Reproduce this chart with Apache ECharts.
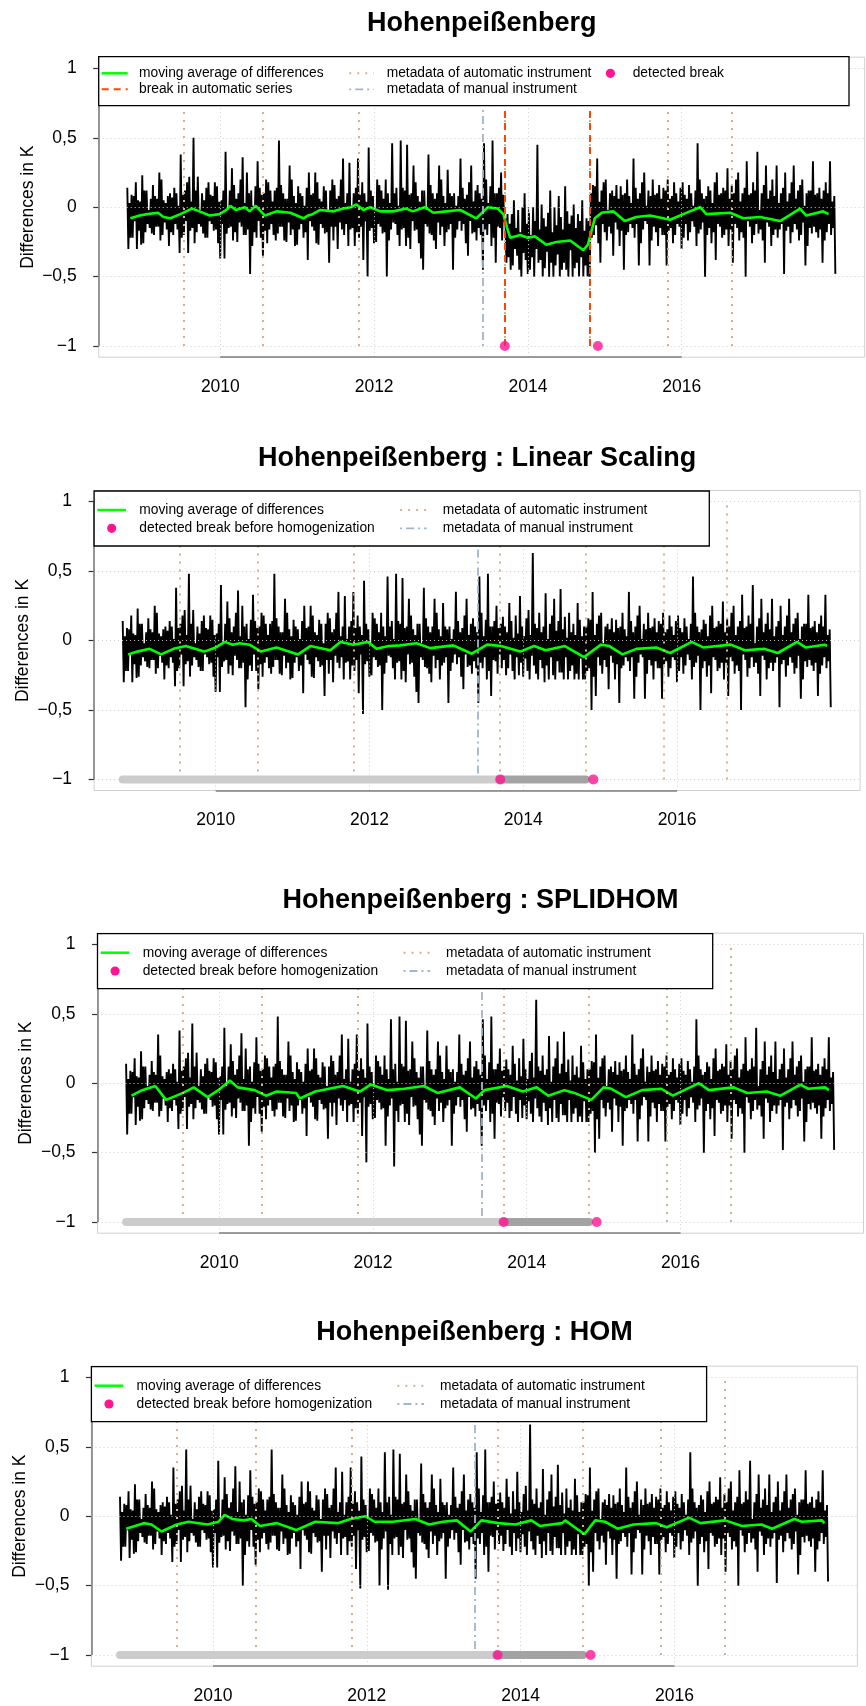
<!DOCTYPE html>
<html><head><meta charset="utf-8">
<script src="https://cdn.jsdelivr.net/npm/echarts@6/dist/echarts.min.js"></script>
<style>html,body{margin:0;padding:0;background:#fff}#c{width:866px;height:1706px}</style>
</head><body><div id="c"></div>
<script>
// ---------- data (K): differences sampled every 1/72 year from START (one row = one year) ----------
const START = 2008.79;
const STEP = 1 / 72;
const rawDiff = [
0.14,-0.30,0.03,-0.22,0.09,-0.22,0.08,-0.10,0.18,-0.30,0.05,-0.17,0.04,-0.27,0.23,-0.26,0.12,-0.18,0.12,-0.12,-0.02,-0.15,0.06,-0.19,0.16,-0.20,0.08,-0.14,0.06,-0.14,0.25,-0.24,0.20,-0.20,0.05,-0.11,0.03,-0.16,0.08,-0.28,0.10,-0.18,0.07,-0.20,0.14,-0.12,0.10,-0.16,0.01,-0.33,0.38,-0.22,0.09,-0.20,0.12,-0.10,0.18,-0.33,0.22,-0.17,0.04,-0.15,0.50,-0.26,0.12,-0.18,0.22,-0.12,-0.02,-0.14,0.10,-0.19,
0.05,-0.22,0.14,-0.22,0.18,-0.10,0.09,-0.12,0.08,-0.17,0.18,-0.16,0.15,-0.26,0.04,-0.37,0.05,-0.12,0.12,-0.37,0.40,-0.19,-0.02,-0.15,0.12,-0.14,0.28,-0.24,0.16,-0.18,0.06,-0.25,0.10,-0.11,0.20,-0.14,0.36,-0.20,0.03,-0.20,0.25,-0.16,0.10,-0.48,0.12,-0.28,0.01,-0.18,0.15,-0.22,0.33,-0.10,0.14,-0.22,0.09,-0.35,0.10,-0.17,0.20,-0.26,0.18,-0.16,0.12,-0.12,0.04,-0.20,0.12,-0.24,0.14,-0.19,0.48,-0.14,
0.16,-0.14,0.10,-0.24,0.06,-0.25,0.06,-0.11,0.30,-0.20,0.20,-0.16,0.08,-0.28,0.03,-0.27,0.15,-0.16,0.10,-0.12,0.08,-0.22,0.01,-0.18,0.14,-0.38,0.25,-0.10,0.09,-0.14,0.10,-0.17,0.25,-0.26,0.18,-0.27,0.06,-0.12,0.04,-0.15,0.15,-0.19,0.12,-0.18,-0.02,-0.40,0.12,-0.14,0.20,-0.24,0.16,-0.14,0.06,-0.30,0.08,-0.11,0.20,-0.16,0.35,-0.20,0.03,-0.12,0.10,-0.28,0.32,-0.16,0.01,-0.15,0.10,-0.28,0.14,-0.18,
0.35,-0.22,0.09,-0.14,0.18,-0.38,0.10,-0.10,0.04,-0.50,0.43,-0.17,0.12,-0.15,0.08,-0.26,-0.02,-0.25,0.20,-0.12,0.16,-0.14,0.12,-0.19,0.06,-0.18,0.20,-0.50,0.10,-0.24,0.03,-0.16,0.46,-0.11,0.10,-0.12,0.14,-0.20,0.01,-0.28,0.48,-0.16,0.14,-0.15,0.12,-0.28,0.45,-0.22,0.09,-0.30,0.10,-0.10,0.30,-0.17,0.18,-0.16,0.08,-0.26,0.04,-0.37,0.12,-0.45,0.12,-0.12,-0.02,-0.14,0.38,-0.19,0.16,-0.20,0.10,-0.24,
0.06,-0.30,0.10,-0.11,0.30,-0.20,0.20,-0.14,0.08,-0.28,0.03,-0.18,0.27,-0.16,0.10,-0.12,0.08,-0.45,0.10,-0.22,0.01,-0.16,0.08,-0.10,0.35,-0.17,0.14,-0.12,0.06,-0.26,0.09,-0.35,0.18,-0.10,0.30,-0.19,0.04,-0.18,0.12,-0.24,0.16,-0.15,0.10,-0.20,0.06,-0.45,0.46,-0.16,0.20,-0.20,0.03,-0.12,0.15,-0.28,0.48,-0.22,0.10,-0.40,0.10,-0.14,0.14,-0.15,0.25,-0.24,0.09,-0.10,-0.08,-0.40,-0.05,-0.36,-0.12,-0.45,
-0.05,-0.42,0.05,-0.30,-0.15,-0.35,-0.02,-0.45,-0.18,-0.50,0.00,-0.33,0.10,-0.38,-0.12,-0.48,-0.04,-0.45,-0.20,-0.36,0.00,-0.50,-0.10,-0.30,0.45,-0.40,-0.16,-0.38,0.02,-0.50,-0.08,-0.44,-0.14,-0.32,-0.04,-0.50,0.12,-0.40,-0.18,-0.50,0.00,-0.42,-0.13,-0.34,0.08,-0.50,-0.07,-0.45,-0.16,-0.40,0.15,-0.45,-0.03,-0.50,-0.12,-0.31,-0.06,-0.50,0.02,-0.44,-0.15,-0.40,-0.05,-0.50,-0.10,-0.36,0.05,-0.50,-0.17,-0.42,-0.08,-0.50,
-0.10,-0.50,0.10,-0.22,0.16,-0.20,0.15,-0.13,0.35,-0.26,0.04,-0.40,0.12,-0.12,0.18,-0.18,0.20,-0.24,-0.02,-0.14,0.10,-0.19,0.12,-0.35,0.08,-0.11,0.16,-0.16,0.06,-0.28,0.15,-0.17,0.09,-0.45,0.10,-0.20,0.20,-0.18,0.08,-0.12,0.03,-0.15,0.35,-0.22,0.14,-0.12,0.06,-0.42,0.10,-0.26,0.18,-0.16,0.25,-0.10,0.01,-0.12,0.12,-0.42,0.08,-0.24,0.20,-0.14,0.09,-0.18,0.10,-0.28,0.16,-0.15,0.06,-0.20,0.14,-0.20,
0.12,-0.42,0.20,-0.17,0.06,-0.15,0.08,-0.26,0.18,-0.20,0.10,-0.12,0.04,-0.14,0.14,-0.30,0.18,-0.22,0.09,-0.12,0.06,-0.24,0.16,-0.18,0.10,-0.10,0.01,-0.14,0.12,-0.28,0.46,-0.19,0.20,-0.16,0.10,-0.11,0.06,-0.50,0.08,-0.20,0.15,-0.15,0.12,-0.26,0.03,-0.18,0.18,-0.38,0.25,-0.12,0.09,-0.14,0.10,-0.22,0.14,-0.20,0.12,-0.16,0.28,-0.28,0.06,-0.16,0.16,-0.40,0.10,-0.12,0.20,-0.15,0.25,-0.24,0.04,-0.18,
0.10,-0.22,0.14,-0.50,0.33,-0.10,0.09,-0.14,0.10,-0.26,0.18,-0.20,0.12,-0.12,0.40,-0.19,-0.02,-0.16,0.10,-0.24,0.16,-0.40,0.30,-0.11,0.06,-0.14,0.12,-0.28,0.20,-0.20,0.08,-0.16,0.30,-0.22,0.03,-0.16,0.10,-0.12,0.14,-0.48,0.25,-0.17,0.04,-0.14,0.10,-0.26,0.18,-0.18,0.30,-0.12,0.06,-0.16,0.12,-0.24,0.16,-0.20,0.20,-0.11,0.01,-0.42,0.10,-0.28,0.12,-0.15,0.12,-0.19,0.33,-0.14,0.09,-0.18,0.10,-0.22,
0.14,-0.16,0.06,-0.40,0.12,-0.24,0.18,-0.18,0.10,-0.12,0.33,-0.20,0.04,-0.15,0.08,-0.48];
const linDiff = [
0.14,-0.30,0.03,-0.22,0.09,-0.22,0.08,-0.10,0.18,-0.30,0.05,-0.17,0.04,-0.27,0.23,-0.26,0.12,-0.18,0.12,-0.12,-0.02,-0.15,0.06,-0.19,0.16,-0.20,0.08,-0.14,0.06,-0.14,0.25,-0.24,0.20,-0.20,0.05,-0.11,0.03,-0.16,0.08,-0.28,0.10,-0.18,0.07,-0.20,0.14,-0.12,0.10,-0.16,0.01,-0.33,0.38,-0.22,0.09,-0.20,0.12,-0.10,0.18,-0.33,0.22,-0.17,0.04,-0.15,0.48,-0.26,0.12,-0.18,0.22,-0.12,-0.02,-0.14,0.10,-0.19,
0.05,-0.22,0.14,-0.22,0.18,-0.10,0.09,-0.12,0.08,-0.17,0.18,-0.16,0.15,-0.26,0.04,-0.37,0.05,-0.12,0.12,-0.37,0.40,-0.19,-0.02,-0.15,0.12,-0.14,0.28,-0.24,0.16,-0.18,0.06,-0.25,0.10,-0.11,0.20,-0.14,0.36,-0.20,0.03,-0.20,0.25,-0.16,0.10,-0.48,0.12,-0.28,0.01,-0.18,0.15,-0.22,0.33,-0.10,0.14,-0.22,0.09,-0.35,0.10,-0.17,0.20,-0.26,0.18,-0.16,0.12,-0.12,0.04,-0.20,0.12,-0.24,0.14,-0.19,0.48,-0.14,
0.16,-0.14,0.10,-0.24,0.06,-0.25,0.06,-0.11,0.30,-0.20,0.20,-0.16,0.08,-0.28,0.03,-0.27,0.15,-0.16,0.10,-0.12,0.08,-0.22,0.01,-0.18,0.14,-0.38,0.25,-0.10,0.09,-0.14,0.10,-0.17,0.25,-0.26,0.18,-0.27,0.06,-0.12,0.04,-0.15,0.15,-0.19,0.12,-0.18,-0.02,-0.40,0.12,-0.14,0.20,-0.24,0.16,-0.14,0.06,-0.30,0.08,-0.11,0.20,-0.16,0.35,-0.20,0.03,-0.12,0.10,-0.28,0.32,-0.16,0.01,-0.15,0.10,-0.28,0.14,-0.18,
0.35,-0.22,0.09,-0.14,0.18,-0.38,0.10,-0.10,0.04,-0.53,0.43,-0.17,0.12,-0.15,0.08,-0.26,-0.02,-0.25,0.20,-0.12,0.16,-0.14,0.12,-0.19,0.06,-0.18,0.20,-0.50,0.10,-0.24,0.03,-0.16,0.46,-0.11,0.10,-0.12,0.14,-0.20,0.01,-0.28,0.48,-0.16,0.14,-0.15,0.12,-0.28,0.45,-0.22,0.09,-0.30,0.10,-0.10,0.30,-0.17,0.18,-0.16,0.08,-0.26,0.04,-0.37,0.12,-0.45,0.12,-0.12,-0.02,-0.14,0.38,-0.19,0.16,-0.20,0.10,-0.24,
0.06,-0.30,0.10,-0.11,0.30,-0.20,0.20,-0.14,0.08,-0.28,0.03,-0.18,0.27,-0.16,0.10,-0.12,0.08,-0.45,0.10,-0.22,0.01,-0.16,0.08,-0.10,0.35,-0.17,0.14,-0.12,0.06,-0.26,0.09,-0.35,0.18,-0.10,0.30,-0.19,0.04,-0.18,0.12,-0.24,0.16,-0.15,0.10,-0.20,0.06,-0.45,0.46,-0.16,0.20,-0.20,0.03,-0.12,0.15,-0.28,0.48,-0.22,0.10,-0.40,0.10,-0.14,0.14,-0.15,0.25,-0.24,0.09,-0.10,0.12,-0.20,0.17,-0.14,0.10,-0.25,
0.06,-0.20,0.27,-0.10,0.14,-0.22,0.02,-0.28,0.18,-0.12,0.05,-0.25,0.32,-0.16,0.10,-0.26,0.03,-0.13,0.16,-0.22,0.22,-0.28,0.04,-0.11,0.63,-0.18,0.12,-0.24,0.09,-0.28,0.20,-0.14,0.06,-0.20,0.10,-0.30,0.34,-0.18,0.01,-0.28,0.12,-0.12,0.18,-0.25,0.30,-0.28,0.07,-0.15,0.14,-0.23,0.37,-0.23,0.08,-0.28,0.17,-0.12,0.02,-0.28,0.20,-0.22,0.06,-0.18,0.12,-0.28,0.04,-0.24,0.27,-0.28,0.15,-0.13,0.03,-0.28,
0.10,-0.28,0.10,-0.22,0.16,-0.20,0.15,-0.50,0.35,-0.26,0.04,-0.40,0.12,-0.12,0.18,-0.18,0.20,-0.24,-0.02,-0.14,0.10,-0.19,0.12,-0.35,0.08,-0.11,0.16,-0.16,0.06,-0.28,0.15,-0.17,0.09,-0.45,0.10,-0.20,0.20,-0.18,0.08,-0.12,0.03,-0.15,0.35,-0.22,0.14,-0.12,0.06,-0.42,0.10,-0.26,0.18,-0.16,0.25,-0.10,0.01,-0.12,0.12,-0.42,0.08,-0.24,0.20,-0.14,0.09,-0.18,0.10,-0.28,0.16,-0.15,0.06,-0.20,0.14,-0.20,
0.12,-0.42,0.20,-0.17,0.06,-0.15,0.08,-0.26,0.18,-0.20,0.10,-0.12,0.04,-0.14,0.14,-0.30,0.18,-0.22,0.09,-0.12,0.06,-0.24,0.16,-0.18,0.10,-0.10,0.01,-0.14,0.12,-0.28,0.46,-0.19,0.20,-0.16,0.10,-0.11,0.06,-0.50,0.08,-0.20,0.15,-0.15,0.12,-0.26,0.03,-0.18,0.18,-0.38,0.25,-0.12,0.09,-0.14,0.10,-0.22,0.14,-0.20,0.12,-0.16,0.28,-0.28,0.06,-0.16,0.16,-0.40,0.10,-0.12,0.20,-0.15,0.25,-0.24,0.04,-0.18,
0.10,-0.22,0.14,-0.50,0.33,-0.10,0.09,-0.14,0.10,-0.26,0.18,-0.20,0.12,-0.12,0.40,-0.19,-0.02,-0.16,0.10,-0.24,0.16,-0.40,0.30,-0.11,0.06,-0.14,0.12,-0.28,0.20,-0.20,0.08,-0.16,0.30,-0.22,0.03,-0.16,0.10,-0.12,0.14,-0.48,0.25,-0.17,0.04,-0.14,0.10,-0.26,0.18,-0.18,0.30,-0.12,0.06,-0.16,0.12,-0.24,0.16,-0.20,0.20,-0.11,0.01,-0.42,0.10,-0.28,0.12,-0.15,0.12,-0.19,0.33,-0.14,0.09,-0.18,0.10,-0.22,
0.14,-0.16,0.06,-0.40,0.12,-0.24,0.18,-0.18,0.10,-0.12,0.33,-0.20,0.04,-0.15,0.08,-0.48];
const splDiff = [
0.14,-0.37,0.03,-0.22,0.09,-0.22,0.08,-0.10,0.18,-0.30,0.05,-0.17,0.04,-0.27,0.23,-0.26,0.12,-0.18,0.12,-0.12,-0.02,-0.15,0.06,-0.19,0.16,-0.20,0.08,-0.14,0.06,-0.14,0.35,-0.24,0.20,-0.20,0.05,-0.11,0.03,-0.16,0.08,-0.28,0.10,-0.18,0.07,-0.20,0.14,-0.12,0.10,-0.16,0.01,-0.33,0.38,-0.22,0.09,-0.20,0.12,-0.10,0.18,-0.33,0.22,-0.17,0.04,-0.15,0.43,-0.26,0.12,-0.18,0.22,-0.12,-0.02,-0.14,0.10,-0.19,
0.05,-0.22,0.14,-0.22,0.18,-0.10,0.09,-0.12,0.08,-0.17,0.18,-0.16,0.15,-0.26,0.04,-0.37,0.05,-0.12,0.12,-0.37,0.40,-0.19,-0.02,-0.15,0.12,-0.14,0.28,-0.24,0.16,-0.18,0.06,-0.25,0.10,-0.11,0.20,-0.14,0.36,-0.20,0.03,-0.20,0.25,-0.16,0.10,-0.45,0.12,-0.28,0.01,-0.18,0.15,-0.22,0.33,-0.10,0.14,-0.22,0.09,-0.35,0.10,-0.17,0.20,-0.26,0.18,-0.16,0.12,-0.12,0.04,-0.20,0.12,-0.24,0.14,-0.19,0.48,-0.14,
0.16,-0.14,0.10,-0.24,0.06,-0.25,0.06,-0.11,0.30,-0.20,0.20,-0.16,0.08,-0.28,0.03,-0.27,0.15,-0.16,0.10,-0.12,0.08,-0.22,0.01,-0.18,0.14,-0.38,0.25,-0.10,0.09,-0.14,0.10,-0.17,0.25,-0.26,0.18,-0.27,0.06,-0.12,0.04,-0.15,0.15,-0.19,0.12,-0.18,-0.02,-0.40,0.12,-0.14,0.20,-0.24,0.16,-0.14,0.06,-0.30,0.08,-0.11,0.20,-0.16,0.35,-0.20,0.03,-0.12,0.10,-0.28,0.32,-0.16,0.01,-0.15,0.10,-0.28,0.14,-0.18,
0.35,-0.22,0.09,-0.14,0.18,-0.38,0.10,-0.10,0.04,-0.57,0.43,-0.17,0.12,-0.15,0.08,-0.26,-0.02,-0.25,0.20,-0.12,0.16,-0.14,0.12,-0.19,0.06,-0.18,0.20,-0.45,0.10,-0.24,0.03,-0.16,0.46,-0.11,0.10,-0.60,0.14,-0.20,0.01,-0.28,0.48,-0.16,0.14,-0.15,0.12,-0.28,0.45,-0.22,0.09,-0.30,0.10,-0.10,0.30,-0.17,0.18,-0.16,0.08,-0.26,0.04,-0.37,0.12,-0.45,0.12,-0.12,-0.02,-0.14,0.38,-0.19,0.16,-0.20,0.10,-0.24,
0.06,-0.30,0.10,-0.11,0.30,-0.20,0.20,-0.14,0.08,-0.28,0.03,-0.18,0.27,-0.16,0.10,-0.12,0.08,-0.45,0.10,-0.22,0.01,-0.16,0.08,-0.10,0.35,-0.17,0.14,-0.12,0.06,-0.26,0.09,-0.35,0.18,-0.10,0.30,-0.19,0.04,-0.18,0.12,-0.24,0.16,-0.15,0.10,-0.20,0.06,-0.45,0.46,-0.16,0.20,-0.20,0.03,-0.12,0.15,-0.28,0.48,-0.22,0.10,-0.40,0.10,-0.14,0.14,-0.15,0.25,-0.24,0.09,-0.10,0.12,-0.20,0.17,-0.14,0.10,-0.25,
0.06,-0.20,0.27,-0.10,0.14,-0.22,0.02,-0.28,0.18,-0.12,0.05,-0.25,0.32,-0.16,0.10,-0.26,0.03,-0.13,0.16,-0.22,0.22,-0.28,0.04,-0.11,0.60,-0.18,0.12,-0.24,0.09,-0.28,0.20,-0.14,0.06,-0.20,0.10,-0.30,0.34,-0.18,0.01,-0.28,0.12,-0.12,0.18,-0.25,0.30,-0.28,0.07,-0.15,0.14,-0.23,0.37,-0.23,0.08,-0.28,0.17,-0.12,0.02,-0.28,0.20,-0.22,0.06,-0.18,0.12,-0.28,0.04,-0.24,0.27,-0.28,0.15,-0.13,0.03,-0.28,
0.10,-0.28,0.10,-0.22,0.16,-0.20,0.15,-0.50,0.35,-0.26,0.04,-0.40,0.12,-0.12,0.18,-0.18,0.20,-0.24,-0.02,-0.14,0.10,-0.19,0.12,-0.35,0.08,-0.11,0.16,-0.16,0.06,-0.28,0.15,-0.17,0.09,-0.45,0.10,-0.20,0.20,-0.18,0.08,-0.12,0.03,-0.15,0.35,-0.22,0.14,-0.12,0.06,-0.42,0.10,-0.26,0.18,-0.16,0.25,-0.10,0.01,-0.12,0.12,-0.42,0.08,-0.24,0.20,-0.14,0.09,-0.18,0.10,-0.28,0.16,-0.15,0.06,-0.20,0.14,-0.20,
0.12,-0.42,0.20,-0.17,0.06,-0.15,0.08,-0.26,0.18,-0.20,0.10,-0.12,0.04,-0.14,0.14,-0.30,0.18,-0.22,0.09,-0.12,0.06,-0.24,0.16,-0.18,0.10,-0.10,0.01,-0.14,0.12,-0.28,0.46,-0.19,0.20,-0.16,0.10,-0.11,0.06,-0.50,0.08,-0.20,0.15,-0.15,0.12,-0.26,0.03,-0.18,0.18,-0.38,0.25,-0.12,0.09,-0.14,0.10,-0.22,0.14,-0.20,0.12,-0.16,0.28,-0.28,0.06,-0.16,0.16,-0.40,0.10,-0.12,0.20,-0.15,0.25,-0.24,0.04,-0.18,
0.10,-0.22,0.14,-0.50,0.33,-0.10,0.09,-0.14,0.10,-0.26,0.18,-0.20,0.12,-0.12,0.40,-0.19,-0.02,-0.16,0.10,-0.24,0.16,-0.40,0.30,-0.11,0.06,-0.14,0.12,-0.28,0.20,-0.20,0.08,-0.16,0.30,-0.22,0.03,-0.16,0.10,-0.12,0.14,-0.48,0.25,-0.17,0.04,-0.14,0.10,-0.26,0.18,-0.18,0.30,-0.12,0.06,-0.16,0.12,-0.24,0.16,-0.20,0.20,-0.11,0.01,-0.42,0.10,-0.28,0.12,-0.15,0.12,-0.19,0.33,-0.14,0.09,-0.18,0.10,-0.22,
0.14,-0.16,0.06,-0.40,0.12,-0.24,0.18,-0.18,0.10,-0.12,0.33,-0.20,0.04,-0.15,0.08,-0.48];
const homDiff = [
0.14,-0.32,0.03,-0.22,0.09,-0.22,0.08,-0.10,0.18,-0.30,0.05,-0.17,0.04,-0.27,0.23,-0.26,0.12,-0.18,0.12,-0.12,-0.02,-0.15,0.06,-0.19,0.16,-0.20,0.08,-0.14,0.06,-0.14,0.25,-0.24,0.20,-0.20,0.05,-0.11,0.03,-0.16,0.08,-0.28,0.10,-0.18,0.07,-0.20,0.14,-0.12,0.10,-0.16,0.01,-0.33,0.35,-0.22,0.09,-0.20,0.12,-0.10,0.18,-0.33,0.22,-0.17,0.04,-0.15,0.48,-0.26,0.12,-0.18,0.22,-0.12,-0.02,-0.14,0.10,-0.19,
0.05,-0.22,0.14,-0.22,0.18,-0.10,0.09,-0.12,0.08,-0.17,0.18,-0.16,0.15,-0.26,0.04,-0.37,0.05,-0.12,0.12,-0.37,0.40,-0.19,-0.02,-0.15,0.12,-0.14,0.28,-0.24,0.16,-0.18,0.06,-0.25,0.10,-0.11,0.20,-0.14,0.36,-0.20,0.03,-0.20,0.25,-0.16,0.10,-0.50,0.12,-0.28,0.01,-0.18,0.15,-0.22,0.33,-0.10,0.14,-0.22,0.09,-0.35,0.10,-0.17,0.20,-0.26,0.18,-0.16,0.12,-0.12,0.04,-0.20,0.12,-0.24,0.14,-0.19,0.48,-0.14,
0.16,-0.14,0.10,-0.24,0.06,-0.25,0.06,-0.11,0.30,-0.20,0.20,-0.16,0.08,-0.28,0.03,-0.27,0.15,-0.16,0.10,-0.12,0.08,-0.22,0.01,-0.18,0.14,-0.38,0.25,-0.10,0.09,-0.14,0.10,-0.17,0.25,-0.26,0.18,-0.27,0.06,-0.12,0.04,-0.15,0.15,-0.19,0.12,-0.18,-0.02,-0.40,0.12,-0.14,0.20,-0.24,0.16,-0.14,0.06,-0.30,0.08,-0.11,0.20,-0.16,0.35,-0.20,0.03,-0.12,0.10,-0.28,0.32,-0.16,0.01,-0.15,0.10,-0.28,0.14,-0.18,
0.35,-0.22,0.09,-0.14,0.18,-0.38,0.10,-0.10,0.04,-0.52,0.43,-0.17,0.12,-0.15,0.08,-0.26,-0.02,-0.25,0.20,-0.12,0.16,-0.14,0.12,-0.19,0.06,-0.18,0.20,-0.50,0.10,-0.24,0.03,-0.16,0.46,-0.11,0.10,-0.53,0.14,-0.20,0.01,-0.28,0.48,-0.16,0.14,-0.15,0.12,-0.28,0.45,-0.22,0.09,-0.30,0.10,-0.10,0.30,-0.17,0.18,-0.16,0.08,-0.26,0.04,-0.37,0.12,-0.45,0.12,-0.12,-0.02,-0.14,0.38,-0.19,0.16,-0.20,0.10,-0.24,
0.06,-0.30,0.10,-0.11,0.30,-0.20,0.20,-0.14,0.08,-0.28,0.03,-0.18,0.27,-0.16,0.10,-0.12,0.08,-0.45,0.10,-0.22,0.01,-0.16,0.08,-0.10,0.35,-0.17,0.14,-0.12,0.06,-0.26,0.09,-0.35,0.18,-0.10,0.30,-0.19,0.04,-0.18,0.12,-0.24,0.16,-0.15,0.10,-0.20,0.06,-0.45,0.46,-0.16,0.20,-0.20,0.03,-0.12,0.15,-0.28,0.48,-0.22,0.10,-0.40,0.10,-0.14,0.14,-0.15,0.25,-0.24,0.09,-0.10,0.12,-0.20,0.17,-0.14,0.10,-0.25,
0.06,-0.20,0.27,-0.10,0.14,-0.22,0.02,-0.28,0.18,-0.12,0.05,-0.25,0.32,-0.16,0.10,-0.26,0.03,-0.13,0.16,-0.22,0.22,-0.28,0.04,-0.11,0.66,-0.18,0.12,-0.24,0.09,-0.28,0.20,-0.14,0.06,-0.20,0.10,-0.30,0.34,-0.18,0.01,-0.28,0.12,-0.12,0.18,-0.25,0.30,-0.28,0.07,-0.15,0.14,-0.23,0.37,-0.23,0.08,-0.28,0.17,-0.12,0.02,-0.28,0.20,-0.22,0.06,-0.18,0.12,-0.28,0.04,-0.24,0.27,-0.28,0.15,-0.13,0.03,-0.28,
0.10,-0.28,0.10,-0.22,0.16,-0.20,0.15,-0.50,0.35,-0.26,0.04,-0.40,0.12,-0.12,0.18,-0.18,0.20,-0.24,-0.02,-0.14,0.10,-0.19,0.12,-0.35,0.08,-0.11,0.16,-0.16,0.06,-0.28,0.15,-0.17,0.09,-0.45,0.10,-0.20,0.20,-0.18,0.08,-0.12,0.03,-0.15,0.35,-0.22,0.14,-0.12,0.06,-0.42,0.10,-0.26,0.18,-0.16,0.25,-0.10,0.01,-0.12,0.12,-0.42,0.08,-0.24,0.20,-0.14,0.09,-0.18,0.10,-0.28,0.16,-0.15,0.06,-0.20,0.14,-0.20,
0.12,-0.42,0.20,-0.17,0.06,-0.15,0.08,-0.26,0.18,-0.20,0.10,-0.12,0.04,-0.14,0.14,-0.30,0.18,-0.22,0.09,-0.12,0.06,-0.24,0.16,-0.18,0.10,-0.10,0.01,-0.14,0.12,-0.28,0.46,-0.19,0.20,-0.16,0.10,-0.11,0.06,-0.50,0.08,-0.20,0.15,-0.15,0.12,-0.26,0.03,-0.18,0.18,-0.38,0.25,-0.12,0.09,-0.14,0.10,-0.22,0.14,-0.20,0.12,-0.16,0.28,-0.28,0.06,-0.16,0.16,-0.40,0.10,-0.12,0.20,-0.15,0.25,-0.24,0.04,-0.18,
0.10,-0.22,0.14,-0.50,0.33,-0.10,0.09,-0.14,0.10,-0.26,0.18,-0.20,0.12,-0.12,0.40,-0.19,-0.02,-0.16,0.10,-0.24,0.16,-0.40,0.30,-0.11,0.06,-0.14,0.12,-0.28,0.20,-0.20,0.08,-0.16,0.30,-0.22,0.03,-0.16,0.10,-0.12,0.14,-0.48,0.25,-0.17,0.04,-0.14,0.10,-0.26,0.18,-0.18,0.30,-0.12,0.06,-0.16,0.12,-0.24,0.16,-0.20,0.20,-0.11,0.01,-0.42,0.10,-0.28,0.12,-0.15,0.12,-0.19,0.33,-0.14,0.09,-0.18,0.10,-0.22,
0.14,-0.16,0.06,-0.40,0.12,-0.24,0.18,-0.18,0.10,-0.12,0.33,-0.20,0.04,-0.15,0.08,-0.47];

// moving averages [year, K]
const maRaw = [[2008.83,-0.08],[2008.95,-0.06],[2009.05,-0.05],[2009.19,-0.04],[2009.26,-0.07],[2009.35,-0.08],[2009.48,-0.05],[2009.63,-0.01],[2009.73,-0.03],[2009.86,-0.06],[2009.99,-0.05],[2010.08,-0.02],[2010.13,0.01],[2010.2,-0.02],[2010.32,0.00],[2010.38,-0.03],[2010.46,0.01],[2010.58,-0.06],[2010.73,-0.03],[2010.91,-0.04],[2011.08,-0.08],[2011.14,-0.06],[2011.2,-0.05],[2011.3,-0.02],[2011.47,-0.03],[2011.6,-0.01],[2011.7,0.00],[2011.77,0.02],[2011.86,-0.02],[2011.95,0.00],[2012.08,-0.03],[2012.25,-0.03],[2012.42,-0.01],[2012.5,-0.03],[2012.66,0.00],[2012.77,-0.04],[2012.94,-0.03],[2013.12,-0.02],[2013.33,-0.08],[2013.48,0.00],[2013.61,-0.01],[2013.68,-0.05],[2013.73,-0.15],[2013.77,-0.22],[2013.9,-0.20],[2014.0,-0.22],[2014.09,-0.21],[2014.24,-0.27],[2014.37,-0.25],[2014.55,-0.24],[2014.72,-0.31],[2014.78,-0.27],[2014.87,-0.08],[2014.96,-0.04],[2015.11,-0.03],[2015.26,-0.10],[2015.41,-0.07],[2015.59,-0.06],[2015.85,-0.09],[2016.02,-0.05],[2016.24,0.00],[2016.32,-0.05],[2016.63,-0.04],[2016.8,-0.08],[2017.02,-0.07],[2017.28,-0.10],[2017.54,-0.01],[2017.62,-0.06],[2017.84,-0.03],[2017.91,-0.05]];
const maLin = [[2008.86,-0.10],[2008.98,-0.08],[2009.14,-0.06],[2009.29,-0.10],[2009.45,-0.06],[2009.61,-0.04],[2009.85,-0.08],[2010.0,-0.05],[2010.12,-0.01],[2010.22,-0.03],[2010.31,-0.02],[2010.44,-0.03],[2010.59,-0.08],[2010.79,-0.05],[2011.07,-0.10],[2011.23,-0.04],[2011.49,-0.07],[2011.62,-0.01],[2011.79,-0.03],[2011.98,-0.01],[2012.09,-0.06],[2012.25,-0.04],[2012.4,-0.035],[2012.61,-0.02],[2012.79,-0.055],[2013.09,-0.035],[2013.33,-0.095],[2013.53,-0.03],[2013.71,-0.04],[2013.96,-0.08],[2014.14,-0.04],[2014.29,-0.07],[2014.54,-0.04],[2014.79,-0.12],[2015.01,-0.03],[2015.12,-0.04],[2015.29,-0.10],[2015.47,-0.06],[2015.73,-0.05],[2015.91,-0.09],[2016.19,-0.01],[2016.34,-0.05],[2016.7,-0.03],[2016.88,-0.07],[2017.13,-0.06],[2017.31,-0.09],[2017.56,-0.01],[2017.67,-0.05],[2017.92,-0.03],[2017.95,-0.04]];
const maSpl = [[2008.86,-0.09],[2009.0,-0.05],[2009.17,-0.02],[2009.31,-0.12],[2009.53,-0.07],[2009.67,-0.03],[2009.85,-0.10],[2009.99,-0.05],[2010.14,0.02],[2010.24,-0.03],[2010.46,-0.05],[2010.61,-0.09],[2010.75,-0.06],[2011.0,-0.07],[2011.05,-0.11],[2011.25,-0.06],[2011.61,-0.02],[2011.83,-0.06],[2011.97,-0.01],[2012.19,-0.05],[2012.41,-0.04],[2012.66,-0.02],[2012.84,-0.07],[2013.13,-0.03],[2013.34,-0.11],[2013.45,-0.05],[2013.74,-0.02],[2013.95,-0.06],[2014.13,-0.03],[2014.28,-0.09],[2014.49,-0.05],[2014.62,-0.07],[2014.84,-0.12],[2015.0,-0.03],[2015.1,-0.04],[2015.29,-0.10],[2015.5,-0.05],[2015.75,-0.04],[2015.9,-0.09],[2016.24,0.00],[2016.37,-0.05],[2016.69,-0.03],[2016.87,-0.07],[2017.12,-0.06],[2017.3,-0.09],[2017.56,-0.01],[2017.66,-0.04],[2017.88,-0.03],[2017.93,-0.05]];
const maHom = [[2008.87,-0.09],[2009.1,-0.05],[2009.2,-0.06],[2009.33,-0.11],[2009.53,-0.06],[2009.68,-0.04],[2009.93,-0.06],[2010.07,-0.04],[2010.15,0.01],[2010.25,-0.02],[2010.4,-0.03],[2010.5,-0.02],[2010.61,-0.07],[2010.83,-0.05],[2011.08,-0.10],[2011.33,-0.04],[2011.62,-0.05],[2011.79,-0.02],[2011.98,0.00],[2012.1,-0.04],[2012.34,-0.04],[2012.63,-0.02],[2012.81,-0.06],[2012.99,-0.04],[2013.17,-0.03],[2013.35,-0.11],[2013.49,-0.03],[2013.71,-0.05],[2013.93,-0.06],[2014.14,-0.03],[2014.25,-0.07],[2014.54,-0.05],[2014.58,-0.03],[2014.83,-0.13],[2014.97,-0.03],[2015.1,-0.04],[2015.26,-0.09],[2015.47,-0.06],[2015.76,-0.05],[2015.9,-0.08],[2016.19,-0.01],[2016.34,-0.05],[2016.66,-0.03],[2016.88,-0.07],[2017.13,-0.06],[2017.27,-0.09],[2017.56,-0.02],[2017.66,-0.04],[2017.92,-0.03],[2017.95,-0.05]];

const metaAuto = [2009.53, 2010.55, 2011.80, 2013.70, 2014.81, 2015.82, 2016.65];
const metaManual = [2013.41];
const autoBreaks = [2013.70, 2014.81];
const detectedBreaks = [2013.70, 2014.91];
const segBefore = [2008.79, 2013.70];
const segBetween = [2013.70, 2014.81];
const xTicks = [2010, 2012, 2014, 2016];
const yTicks = [-1, -0.5, 0, 0.5, 1];
const titles = ['Hohenpeißenberg', 'Hohenpeißenberg : Linear Scaling', 'Hohenpeißenberg : SPLIDHOM', 'Hohenpeißenberg : HOM'];

// ---------- layout ----------
const XMIN = 2008.418, XMAX = 2018.38, YMIN = -1.08, YMAX = 1.08;
const FONT = '"Liberation Sans", Arial, Helvetica, sans-serif';
const C = {black:'#000000', green:'#00ff00', pink:'#ff1493', orange:'#ff4500', tan:'#d2b48c', blue:'#9fb6cd', grid:'#cfcfcf', barLight:'#cccccc', barDark:'#a3a3a3'};
const panels = [
  {left:98.7, top:57.2, titleY:23.3, diff:rawDiff, ma:maRaw, raw:true},
  {left:94.1, top:490.5, titleY:458.8, diff:linDiff, ma:maLin},
  {left:97.5, top:933.2, titleY:900.2, diff:splDiff, ma:maSpl},
  {left:91.4, top:1366.2, titleY:1332.5, diff:homDiff, ma:maHom}
];
const W = 766, H = 300;

const toPairs = vals => vals.map((v, i) => [START + i * STEP, v]);
const vSeg = (xs, style) => xs.map(x => [{coord:[x, -1], lineStyle:style}, {coord:[x, 1]}]);
const yFmt = v => (v < 0 ? '\u2212' : '') + String(Math.abs(v)).replace('.', ',');

const grids = [], xAxes = [], yAxes = [], series = [], titleOpts = [], graphics = [];
const tanStyle = {color:C.tan, width:2, type:[2,6]};
const blueStyle = {color:C.blue, width:1.8, type:[2,4,8,4]};
const orangeStyle = {color:C.orange, width:2, type:[7,5]};

panels.forEach((p, i) => {
  grids.push({left:p.left, top:p.top, width:W, height:H, show:true, borderColor:'#d0d0d0', borderWidth:1, backgroundColor:'transparent'});
  xAxes.push({type:'value', gridIndex:i, min:XMIN, max:XMAX,
    axisLine:{show:false}, splitLine:{show:false},
    axisTick:{show:true, customValues:xTicks, length:5.5, lineStyle:{color:'#333', width:1.2}},
    axisLabel:{show:true, customValues:xTicks, formatter:v => String(v), fontSize:17.5, fontFamily:FONT, color:'#000', margin:21}});
  yAxes.push({type:'value', gridIndex:i, min:YMIN, max:YMAX,
    axisLine:{show:false}, splitLine:{show:false},
    axisTick:{show:true, customValues:yTicks, length:5.5, lineStyle:{color:'#333', width:1.2}},
    axisLabel:{show:true, customValues:yTicks, formatter:yFmt, fontSize:17.5, fontFamily:FONT, color:'#000', margin:22},
    name:'Differences in K', nameLocation:'middle', nameRotate:90, nameGap:62, nameMoveOverlap:false,
    nameTextStyle:{fontSize:17.5, fontFamily:FONT, color:'#000'}});
  titleOpts.push({text:titles[i], left:p.left + W / 2, top:p.titleY, textAlign:'center', textVerticalAlign:'middle', padding:0,
    textStyle:{fontSize:27, fontWeight:'bold', fontFamily:FONT, color:'#000'}});

  const axisStyle = {color:'#808080', width:1.6, type:'solid'};
  // background grid + R-style axis lines
  series.push({type:'line', xAxisIndex:i, yAxisIndex:i, data:[], symbol:'none', silent:true, clip:false, z:1,
    markLine:{silent:true, symbol:['none','none'], label:{show:false}, emphasis:{disabled:true}, animation:false,
      lineStyle:{color:C.grid, width:1, type:[1,3]},
      data:[...yTicks.map(v => [{coord:[XMIN, v]}, {coord:[XMAX, v]}]),
            ...xTicks.map(x => [{coord:[x, YMIN]}, {coord:[x, YMAX]}]),
            [{coord:[xTicks[0], YMIN], lineStyle:axisStyle}, {coord:[xTicks[xTicks.length - 1], YMIN]}],
            [{coord:[XMIN, yTicks[0]], lineStyle:axisStyle}, {coord:[XMIN, yTicks[yTicks.length - 1]]}]]}});
  // differences
  series.push({type:'line', name:'differences', xAxisIndex:i, yAxisIndex:i, data:toPairs(p.diff), symbol:'none', silent:true, clip:false, z:2,
    sampling:false, lineStyle:{color:C.black, width:1.9, join:'bevel'}});
  // moving average
  series.push({type:'line', name:'moving average of differences', xAxisIndex:i, yAxisIndex:i, data:p.ma, symbol:'none', silent:true, clip:false, z:3,
    lineStyle:{color:C.green, width:2.6}});
  // metadata & break lines
  const vdata = [...vSeg(metaAuto, tanStyle), ...vSeg(metaManual, blueStyle)];
  if (p.raw) vdata.push(...vSeg(autoBreaks, orangeStyle));
  series.push({type:'line', xAxisIndex:i, yAxisIndex:i, data:[], symbol:'none', silent:true, clip:false, z:4,
    markLine:{silent:true, symbol:['none','none'], label:{show:false}, emphasis:{disabled:true}, animation:false, data:vdata}});
  if (!p.raw) {
    series.push({type:'line', xAxisIndex:i, yAxisIndex:i, data:segBefore.map(x => [x, -1]), symbol:'none', silent:true, z:5,
      lineStyle:{color:C.barLight, width:8, cap:'round'}});
    series.push({type:'line', xAxisIndex:i, yAxisIndex:i, data:segBetween.map(x => [x, -1]), symbol:'none', silent:true, z:5,
      lineStyle:{color:C.barDark, width:8, cap:'round'}});
  }
  series.push({type:'scatter', name:p.raw ? 'detected break' : 'detected break before homogenization', xAxisIndex:i, yAxisIndex:i,
    data:detectedBreaks.map(x => [x, -1]), symbol:'circle', symbolSize:10, silent:true, z:6, itemStyle:{color:C.pink}});

  // legend box
  const L = p.left, T = p.top;
  const txt = (x, y, s) => ({type:'text', x, y, z:101, silent:true,
    style:{text:s, fill:'#000', font:'13.8px ' + FONT, fontSize:13.8, fontFamily:FONT, align:'left', verticalAlign:'middle', textAlign:'left', textVerticalAlign:'middle'}});
  const ln = (x1, x2, y, st) => ({type:'line', z:101, silent:true, shape:{x1, y1:y, x2, y2:y},
    style:{stroke:st.color, lineWidth:st.width, lineDash:Array.isArray(st.type) ? st.type : null}});
  const dot = (cx, cy) => ({type:'circle', z:101, silent:true, shape:{cx, cy, r:4.6}, style:{fill:C.pink}});
  const greenStyle = {color:C.green, width:2.5, type:'solid'};
  if (p.raw) {
    const r1 = T + 16.1, r2 = T + 32.1;
    graphics.push({type:'rect', z:100, silent:true, shape:{x:L, y:T - 0.5, width:750.3, height:49}, style:{fill:'#fff', stroke:'#000', lineWidth:1.3}});
    graphics.push(ln(L + 3, L + 29, r1, greenStyle), txt(L + 40.3, r1, 'moving average of differences'));
    graphics.push(ln(L + 3, L + 29, r2, orangeStyle), txt(L + 40.3, r2, 'break in automatic series'));
    graphics.push(ln(L + 250.5, L + 275, r1, tanStyle), txt(L + 288, r1, 'metadata of automatic instrument'));
    graphics.push(ln(L + 250.5, L + 275, r2, blueStyle), txt(L + 288, r2, 'metadata of manual instrument'));
    graphics.push(dot(L + 511.7, r1), txt(L + 534, r1, 'detected break'));
  } else {
    const r1 = T + 19.5, r2 = T + 37.8;
    graphics.push({type:'rect', z:100, silent:true, shape:{x:L, y:T + 0.5, width:615.2, height:55}, style:{fill:'#fff', stroke:'#000', lineWidth:1.3}});
    graphics.push(ln(L + 3.2, L + 31.9, r1, greenStyle), txt(L + 45.2, r1, 'moving average of differences'));
    graphics.push(dot(L + 17.6, r2), txt(L + 45.2, r2, 'detected break before homogenization'));
    graphics.push(ln(L + 306, L + 332.6, r1, tanStyle), txt(L + 348.6, r1, 'metadata of automatic instrument'));
    graphics.push(ln(L + 306, L + 332.6, r2, blueStyle), txt(L + 348.6, r2, 'metadata of manual instrument'));
  }
});

const chart = echarts.init(document.getElementById('c'), null, {renderer:'canvas', width:866, height:1706});
chart.setOption({
  animation:false, backgroundColor:'#ffffff',
  title:titleOpts, grid:grids, xAxis:xAxes, yAxis:yAxes, series:series,
  graphic:{elements:graphics}
});
</script>
</body></html>
